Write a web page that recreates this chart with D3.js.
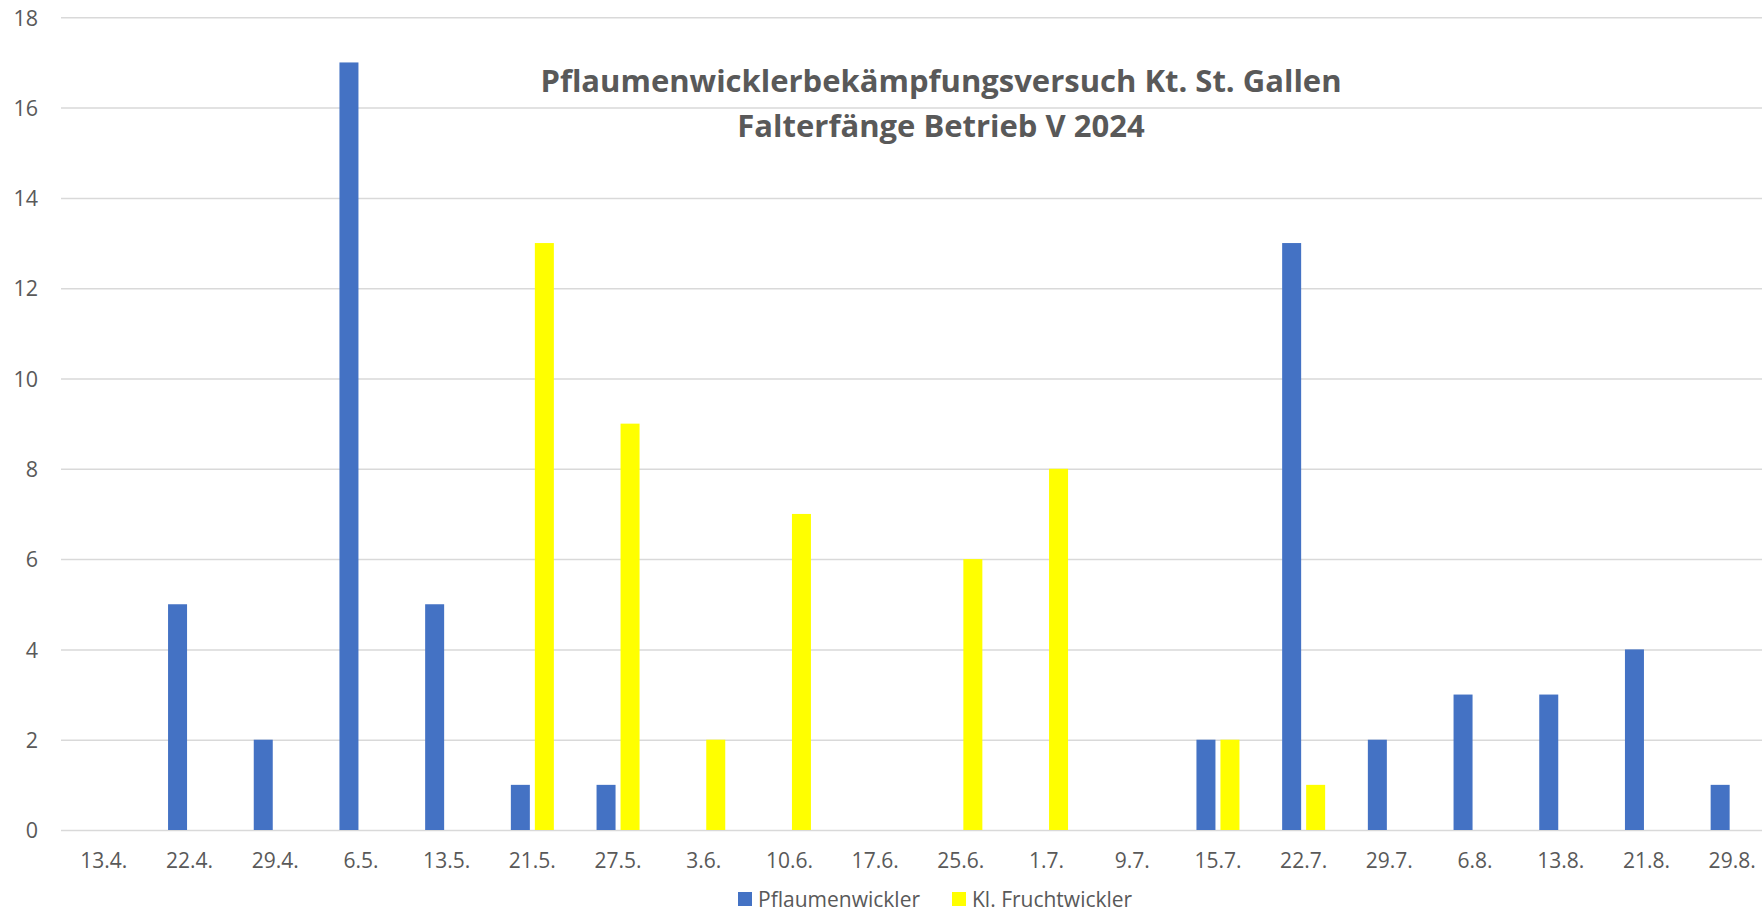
<!DOCTYPE html>
<html>
<head>
<meta charset="utf-8">
<script src="https://cdn.jsdelivr.net/npm/d3@7"></script>
<style>
  body { margin: 0; background: #fff; }
  svg { display: block; font-family: "Open Sans", sans-serif; }
  .tick text { fill: #595959; font-family: "Open Sans", sans-serif; }
</style>
</head>
<body>
<div class="graph"></div>
<script>
var dates = ['13.4.', '22.4.', '29.4.', '6.5.', '13.5.', '21.5.', '27.5.', '3.6.', '10.6.', '17.6.',
  '25.6.', '1.7.', '9.7.', '15.7.', '22.7.', '29.7.', '6.8.', '13.8.', '21.8.', '29.8.'];
var pflaumenwickler = [0, 5, 2, 17, 5, 1, 1, 0, 0, 0, 0, 0, 0, 2, 13, 2, 3, 3, 4, 1];
var fruchtwickler = [0, 0, 0, 0, 0, 13, 9, 2, 7, 0, 6, 8, 0, 2, 1, 0, 0, 0, 0, 0];
var seriesNames = ['Pflaumenwickler', 'Kl. Fruchtwickler'];
var yTicks = [0, 2, 4, 6, 8, 10, 12, 14, 16, 18];
var titleLines = ['Pflaumenwicklerbekämpfungsversuch Kt. St. Gallen', 'Falterfänge Betrieb V 2024'];

var width = 1762, height = 915;
var colors = { 'Pflaumenwickler': '#4472C4', 'Kl. Fruchtwickler': '#FFFF00' };

// one row per date, built from the arrays above
var rows = dates.map(function (d, i) {
  return { date: d, values: [
    { name: seriesNames[0], value: pflaumenwickler[i] },
    { name: seriesNames[1], value: fruchtwickler[i] }
  ] };
});

var svg = d3.select('.graph')
  .append('svg')
  .attr('width', width)
  .attr('height', height);

// the plot runs past the right edge, the picture is cut there
var x = d3.scaleBand()
  .domain(dates)
  .range([61, 1775]);

var x1 = d3.scaleBand()
  .domain(seriesNames)
  .range([0, 43])
  .paddingInner(5 / 24);

var y = d3.scaleLinear()
  .domain([0, 18])
  .range([830, 17.3]);

// gridlines + y labels
var yAxis = svg.append('g')
  .attr('transform', 'translate(61,0)')
  .call(d3.axisLeft(y).tickValues(yTicks).tickSize(-(width - 61)).tickPadding(23));
yAxis.select('.domain').remove();
yAxis.selectAll('.tick line')
  .attr('stroke', '#D9D9D9')
  .attr('stroke-width', 1.5);
yAxis.selectAll('.tick text')
  .attr('font-size', 21.5)
  .attr('dy', '0.36em');

// bars
var groups = svg.append('g')
  .selectAll('g.group')
  .data(rows)
  .enter()
  .append('g')
  .attr('class', 'group')
  .attr('transform', function (d) { return 'translate(' + (x(d.date) + x.bandwidth() / 2 - 21.5) + ',0)'; });

groups.selectAll('rect')
  .data(function (d) { return d.values; })
  .enter()
  .append('rect')
  .attr('x', function (d) { return x1(d.name); })
  .attr('width', x1.bandwidth())
  .attr('y', function (d) { return y(d.value); })
  .attr('height', function (d) { return y(0) - y(d.value); })
  .attr('fill', function (d) { return colors[d.name]; });

// x labels
var xAxis = svg.append('g')
  .attr('transform', 'translate(0,830)')
  .call(d3.axisBottom(x).tickSize(0).tickPadding(23));
xAxis.select('.domain').remove();
xAxis.selectAll('.tick text')
  .attr('font-size', 21);

// title
svg.append('g')
  .selectAll('text')
  .data(titleLines)
  .enter()
  .append('text')
  .attr('x', 941)
  .attr('y', function (d, i) { return 92 + i * 45; })
  .attr('text-anchor', 'middle')
  .attr('font-size', 31)
  .attr('font-weight', 'bold')
  .attr('fill', '#595959')
  .text(function (d) { return d; });

// legend
var legend = svg.append('g')
  .attr('class', 'legend')
  .selectAll('g')
  .data(seriesNames)
  .enter()
  .append('g')
  .attr('transform', function (d, i) { return 'translate(' + (738 + i * 214) + ',892)'; });
legend.append('rect')
  .attr('width', 14)
  .attr('height', 14)
  .attr('fill', function (d) { return colors[d]; });
legend.append('text')
  .attr('x', 20)
  .attr('y', 7)
  .attr('dy', '0.36em')
  .attr('font-size', 21)
  .attr('fill', '#595959')
  .text(function (d) { return d; });
</script>
</body>
</html>
